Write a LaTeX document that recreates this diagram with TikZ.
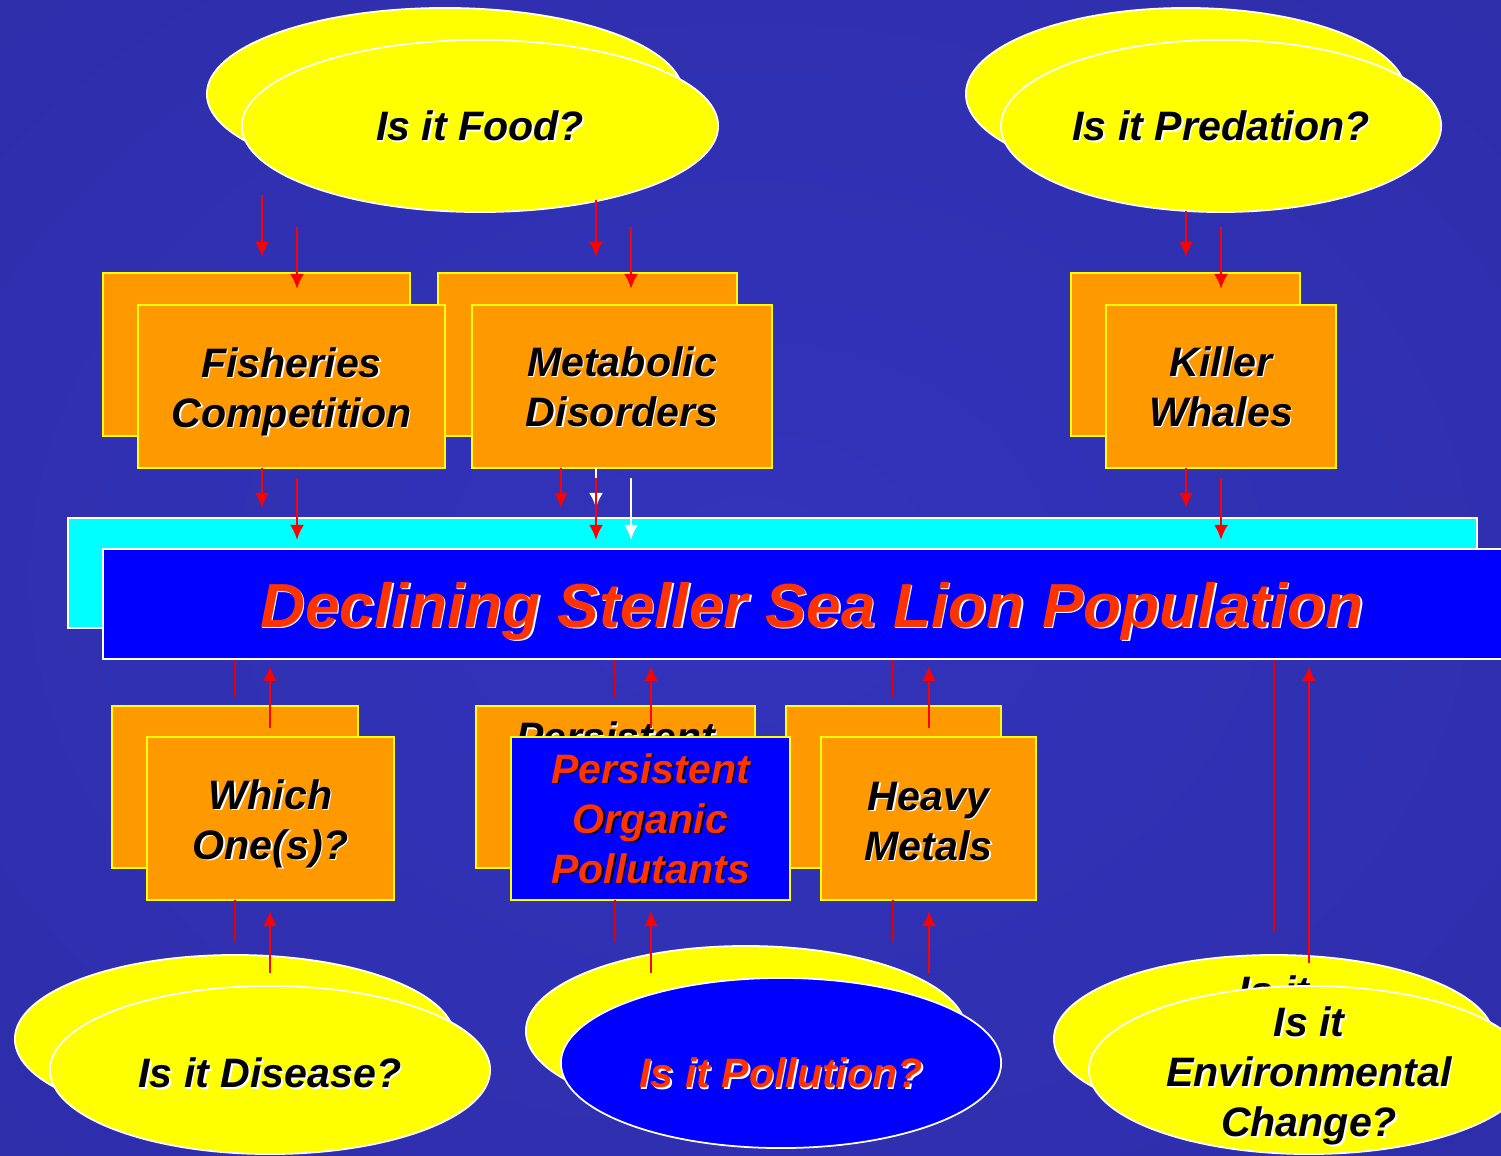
\documentclass[tikz,border=0pt]{standalone}
\usepackage{fontspec}
\setmainfont{Liberation Sans}
\usetikzlibrary{shapes.geometric,arrows.meta}

\definecolor{slyellow}{RGB}{255,255,0}
\definecolor{slorange}{RGB}{255,153,0}
\definecolor{slcyan}{RGB}{0,255,255}
\definecolor{slblue}{RGB}{0,0,255}
\definecolor{slred}{RGB}{255,51,0}
\definecolor{arrred}{RGB}{255,0,0}

\pgfdeclareradialshading{seabg}{\pgfpoint{0bp}{0bp}}{rgb(0bp)=(0.2,0.2,0.74); rgb(35bp)=(0.18,0.18,0.67); rgb(72bp)=(0.11,0.11,0.42)}

\tikzset{
  question/.style={ellipse, draw=white, line width=0.5pt, fill=slyellow, inner sep=0pt,
    minimum width=4.4cm, minimum height=1.7cm},
  factor/.style={rectangle, draw=slyellow, line width=0.6pt, fill=slorange, inner sep=0pt,
    minimum width=3.07cm, minimum height=1.63cm},
  band/.style={rectangle, draw=white, line width=0.6pt, inner sep=0pt,
    minimum width=14.09cm, minimum height=1.1cm},
  lbl/.style={font=\bfseries\itshape\fontsize{11.7}{14.2}\selectfont, align=center, inner sep=0pt},
  redarrow/.style={draw=arrred, line width=0.75pt, -{Latex[length=0.15cm,width=0.14cm]}},
  whitearrow/.style={draw=white, line width=0.75pt, -{Latex[length=0.15cm,width=0.14cm]}},
  redline/.style={draw=arrred!90!black, line width=0.75pt}
}

% text with a drop shadow: [style]{name}{at}{colour}{shadow}{text}
\newcommand{\castlabel}[6][]{%
  \node[lbl,#1,text=#5] (#2s) at ([shift={(1.5,1.5)}]#3) {#6};
  \node[lbl,#1,text=#4] (#2) at (#3) {#6};
}

\begin{document}
\begin{tikzpicture}[x=0.01cm,y=-0.01cm]
\useasboundingbox (0,0) rectangle (1501,1155);
\shade[shading=seabg] (0,0) rectangle (1501,1155);

% back copies
\node[question, minimum width=4.76cm, minimum height=1.72cm] (foodB) at (445,94) {};
\node[question, minimum height=1.72cm] (predB) at (1186,94) {};
\node[factor] (fishB) at (256.5,354.5) {};
\node[factor, minimum width=2.99cm] (metaB) at (587.5,354.5) {};
\node[factor, minimum width=2.29cm] (whaleB) at (1185.5,354.5) {};
\node[band, fill=slcyan] (popB) at (772.5,573) {};
\node[factor, minimum width=2.46cm, minimum height=1.62cm] (whichB) at (235,787) {};
\node[factor, minimum width=2.79cm, minimum height=1.62cm] (popsB) at (615.5,787) {};
\node[factor, minimum width=2.15cm, minimum height=1.62cm] (metalB) at (893.5,787) {};
\node[question, minimum height=1.68cm] (diseaseB) at (235,1039) {};
\node[question] (pollB) at (746,1031) {};
\node[question, minimum height=1.68cm] (envB) at (1274,1039) {};
\castlabel{tpopsB}{popsB}{black}{white}{Persistent\\Organic\\Pollutants}
\castlabel[yshift=-0.06cm]{tenvB}{envB}{black}{white}{Is it\\Environmental\\Change?}

% front copies
\node[question, minimum width=4.76cm, minimum height=1.72cm] (food) at (480,126) {};
\node[question, minimum height=1.72cm] (pred) at (1221,126) {};
\node[factor] (fish) at (291.5,386.5) {};
\node[factor, minimum width=3cm] (meta) at (622,386.5) {};
\node[factor, minimum width=2.3cm] (whale) at (1221,386.5) {};
\node[band, fill=slblue] (pop) at (807.5,604) {};
\node[factor, minimum width=2.47cm] (which) at (270.5,818.5) {};
\node[factor, fill=slblue, minimum width=2.79cm] (pops) at (650.5,818.5) {};
\node[factor, minimum width=2.15cm] (metal) at (928.5,818.5) {};
\node[question, minimum height=1.68cm] (disease) at (270,1070) {};
\node[question, fill=slblue] (poll) at (781,1063) {};
\node[question, minimum height=1.68cm] (env) at (1309,1070) {};

\castlabel{tfood}{food}{black}{white}{Is it Food?}
\castlabel{tpred}{pred}{black}{white}{Is it Predation?}
\castlabel[yshift=-0.05cm]{tfish}{fish}{black}{white}{Fisheries\\Competition}
\castlabel{tmeta}{meta}{black}{white}{Metabolic\\Disorders}
\castlabel{twhale}{whale}{black}{white}{Killer\\Whales}
\coordinate (titlept) at (812,611);
\castlabel[font=\bfseries\itshape\fontsize{17.7}{21}\selectfont]{tpop}{titlept}{slred}{white}{Declining Steller Sea Lion Population}
\castlabel[yshift=-0.05cm]{twhich}{which}{black}{white}{Which\\One(s)?}
\castlabel{tpops}{pops}{slred}{black}{Persistent\\Organic\\Pollutants}
\castlabel[yshift=-0.03cm]{tmetal}{metal}{black}{white}{Heavy\\Metals}
\castlabel[yshift=-0.03cm]{tdisease}{disease}{black}{white}{Is it Disease?}
\castlabel[yshift=-0.1cm]{tpoll}{poll}{slred}{white}{Is it Pollution?}
\castlabel[yshift=-0.06cm]{tenv}{env}{black}{white}{Is it\\Environmental\\Change?}

% connectors
\foreach \i/\x/\ya/\yb in {a/596/468/508, b/631/478/540}{
  \coordinate (ws\i) at (\x,\ya); \coordinate (we\i) at (\x,\yb);
  \draw[whitearrow] (ws\i) -- (we\i);
}
\foreach \i/\x/\ya/\yb in {1/262/195/257, 2/297/227/289, 3/596/200/257, 4/631/227/289,
    5/1186/211/257, 6/1221/227/289, 7/262/468/508, 8/297/478/540, 9/561/468/508,
    10/596/478/540, 11/1186/468/508, 12/1221/478/540,
    13/270/728/666, 14/651/728/666, 15/929/728/666, 16/270/973/911,
    17/651/973/911, 18/929/973/911, 19/1309/963/666}{
  \coordinate (s\i) at (\x,\ya); \coordinate (e\i) at (\x,\yb);
  \draw[redarrow] (s\i) -- (e\i);
}
\foreach \i/\x/\ya/\yb in {1/235/660/697, 2/615/660/697, 3/893/660/697, 4/235/900/942,
    5/615/900/942, 6/893/900/942, 7/1274/660/932}{
  \coordinate (ls\i) at (\x,\ya); \coordinate (le\i) at (\x,\yb);
  \draw[redline] (ls\i) -- (le\i);
}
\end{tikzpicture}
\end{document}
